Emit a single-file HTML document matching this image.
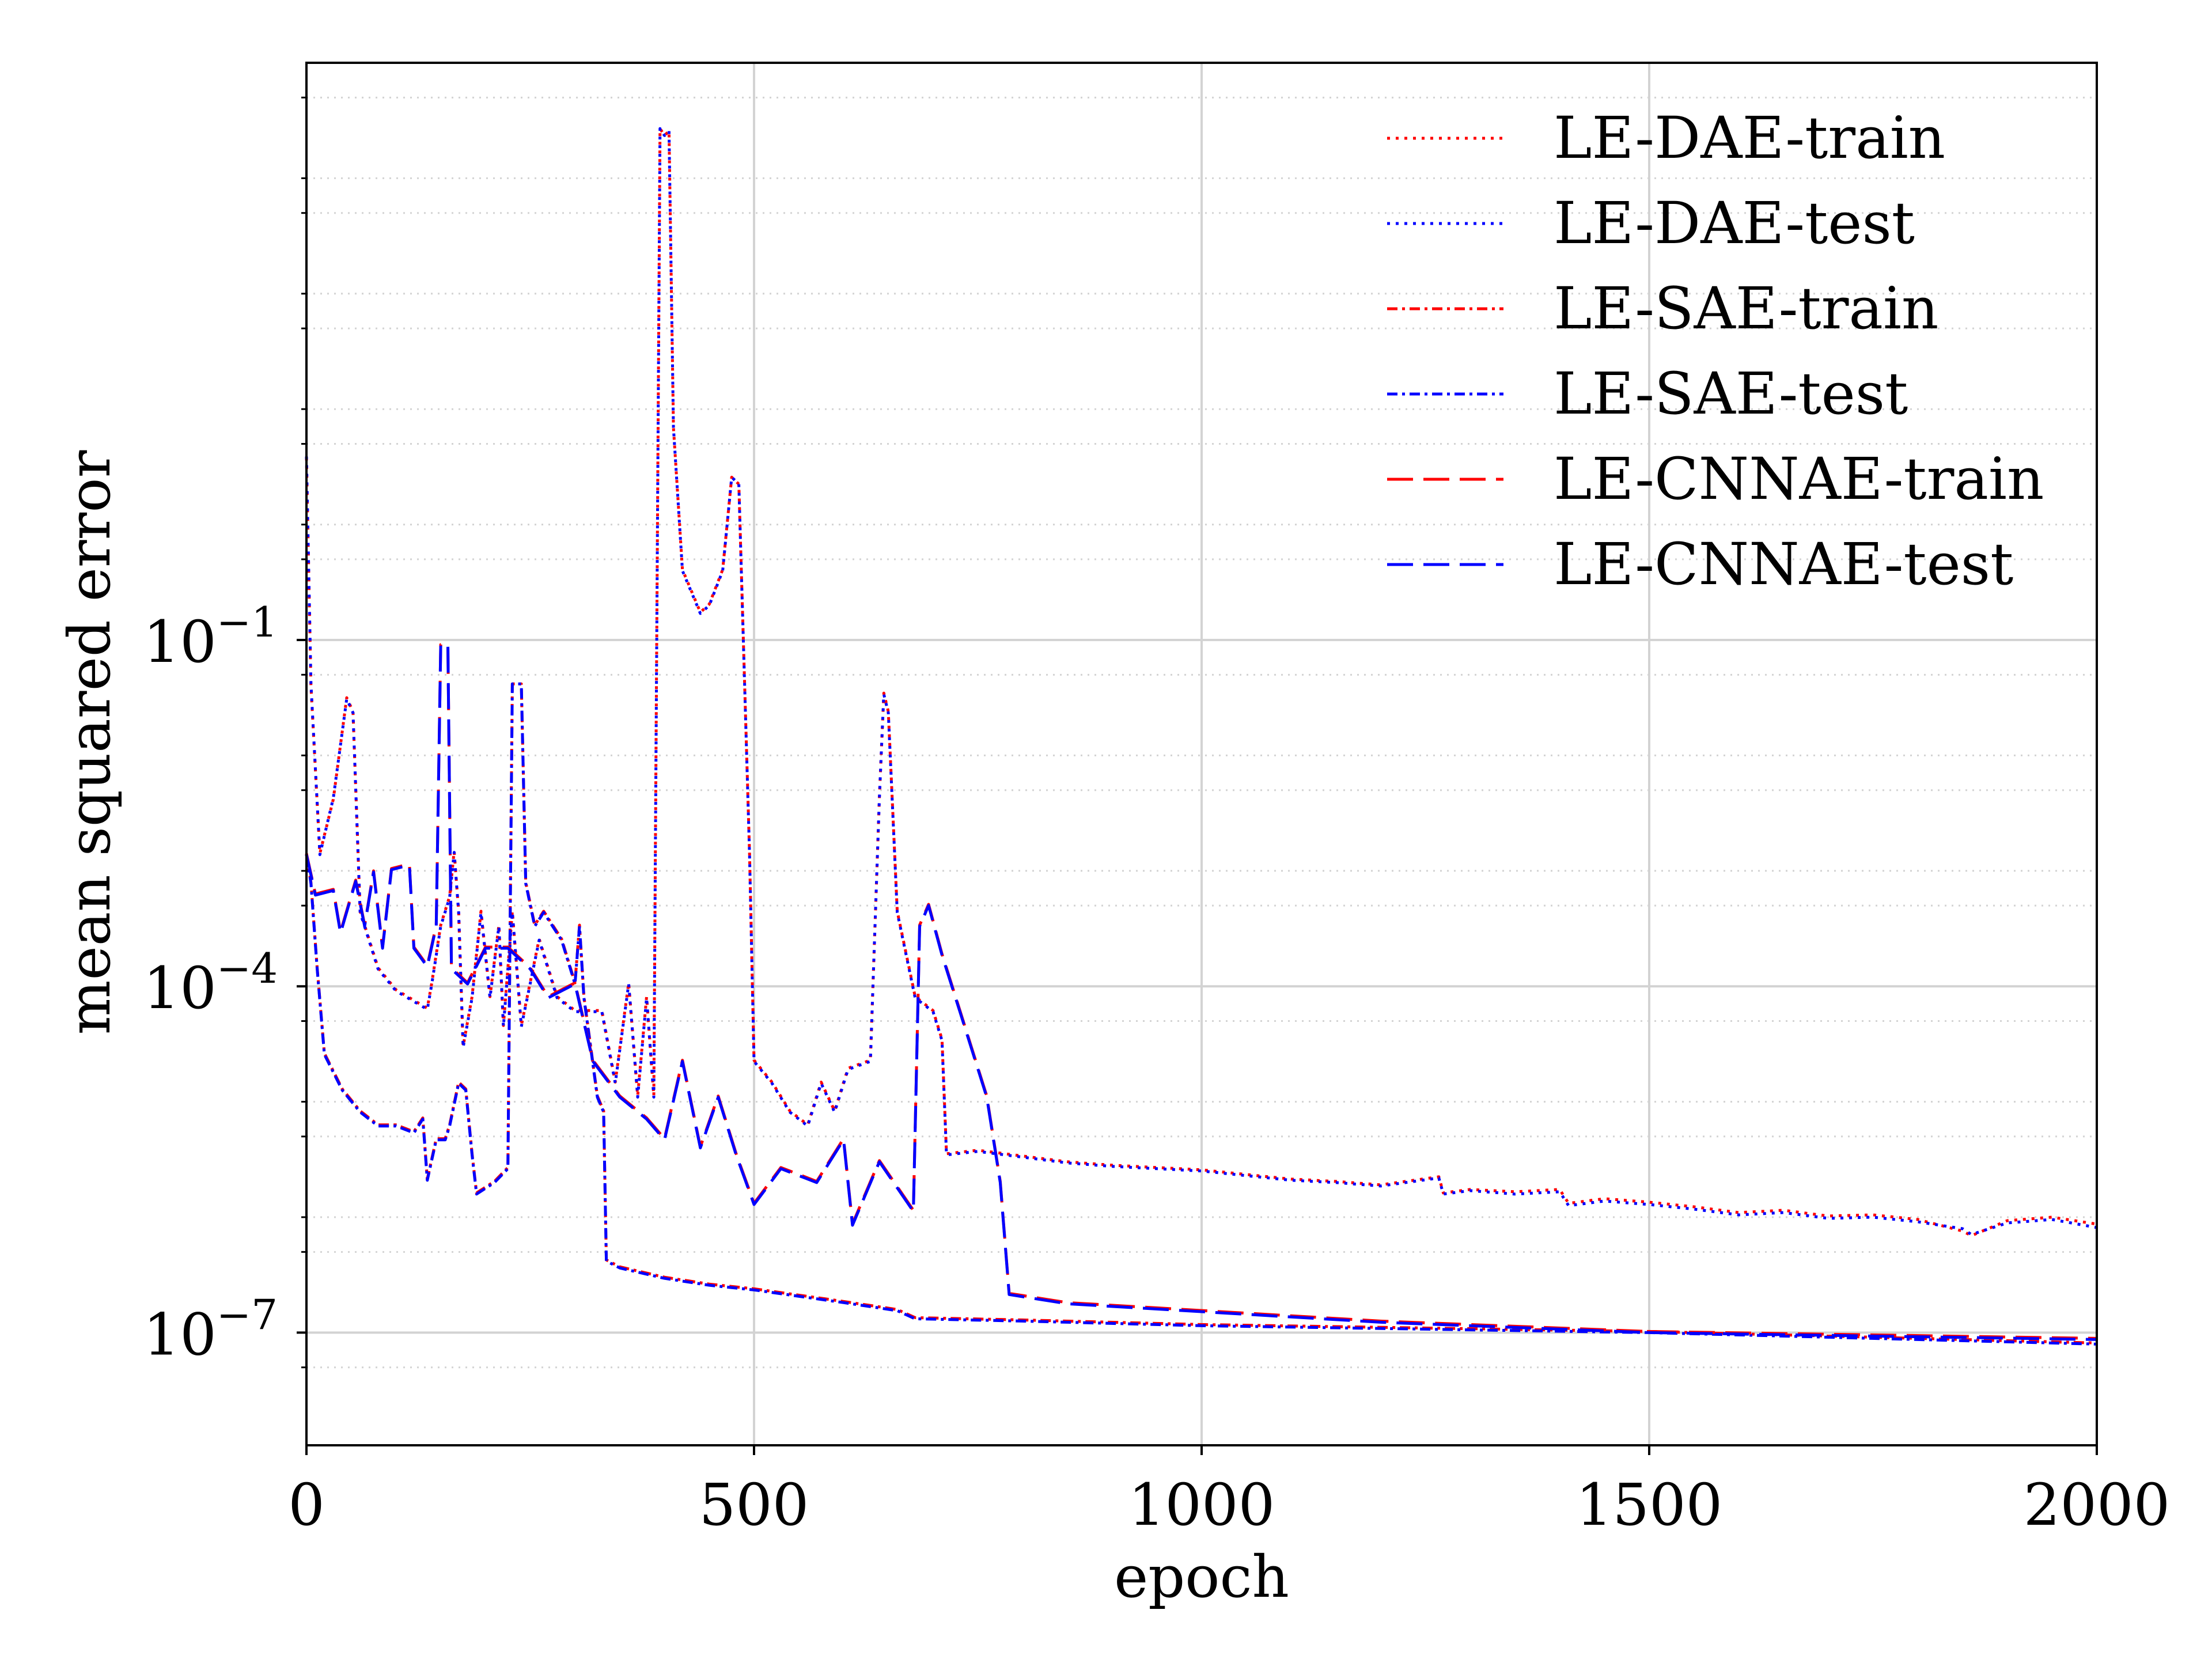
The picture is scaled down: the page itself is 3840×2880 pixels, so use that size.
<!DOCTYPE html>
<html><head><meta charset="utf-8"><style>
html,body{margin:0;padding:0;background:#fff;}
svg{display:block;font-family:"DejaVu Serif","Liberation Serif",serif;}
</style></head><body>
<svg id="chart" width="3840" height="2880" viewBox="0 0 3840 2880" xmlns="http://www.w3.org/2000/svg">
<rect width="3840" height="2880" fill="#fff"/>
<g id="grid"></g>
<g id="series"></g>
<g id="axes"></g>
<g id="legend"></g>
</svg>
<script>
// ---- data (log10 of mean squared error) ----
const xTicks = [0, 500, 1000, 1500, 2000];
const yMajorExp = [-1, -4, -7];
const yMinorExp = [4, 3, 2, 1, 0, -2, -3, -5, -6, -8];

const daeEpochs = [0,5,15,30,45,52,60,80,100,135,140,150,160,165,170,175,185,195,205,215,220,230,240,260,280,300,330,345,360,370,380,388,395,400,405,410,420,440,450,465,475,483,495,500,520,540,560,575,590,605,630,640,645,650,660,680,700,710,715,750,800,850,900,950,1000,1050,1100,1150,1200,1265,1270,1300,1350,1400,1410,1450,1500,1550,1600,1650,1700,1750,1800,1850,1860,1900,1950,2000];
const daeTest  = [0.59,-1.38,-2.86,-2.37,-1.51,-1.63,-3.36,-3.85,-4.04,-4.20,-3.98,-3.48,-3.23,-2.84,-3.36,-4.53,-4.10,-3.36,-4.10,-3.48,-4.35,-3.36,-4.35,-3.60,-4.10,-4.22,-4.22,-4.84,-3.98,-4.96,-4.10,-4.96,3.43,3.37,3.41,0.84,-0.40,-0.77,-0.70,-0.40,0.41,0.35,-2.86,-4.65,-4.84,-5.09,-5.21,-4.84,-5.09,-4.72,-4.65,-2.37,-1.47,-1.63,-3.36,-4.10,-4.22,-4.47,-5.46,-5.43,-5.48,-5.53,-5.56,-5.58,-5.60,-5.64,-5.68,-5.70,-5.73,-5.66,-5.80,-5.77,-5.80,-5.78,-5.90,-5.86,-5.89,-5.93,-5.98,-5.96,-6.01,-6.00,-6.04,-6.10,-6.15,-6.05,-6.02,-6.09];
const daeTrain = [0.58,-1.40,-2.85,-2.38,-1.50,-1.62,-3.35,-3.84,-4.03,-4.19,-3.97,-3.47,-3.22,-2.83,-3.35,-4.52,-4.09,-3.35,-4.09,-3.47,-4.34,-3.35,-4.34,-3.59,-4.09,-4.21,-4.21,-4.83,-3.97,-4.95,-4.09,-4.95,3.43,3.37,3.41,0.84,-0.39,-0.76,-0.69,-0.39,0.41,0.35,-2.85,-4.64,-4.83,-5.08,-5.20,-4.83,-5.08,-4.71,-4.64,-2.36,-1.46,-1.62,-3.35,-4.09,-4.21,-4.46,-5.45,-5.42,-5.47,-5.52,-5.55,-5.57,-5.59,-5.63,-5.67,-5.69,-5.72,-5.65,-5.79,-5.76,-5.78,-5.76,-5.88,-5.84,-5.87,-5.91,-5.96,-5.94,-5.99,-5.98,-6.02,-6.12,-6.16,-6.03,-6.00,-6.06];

const saeEpochs = [0,5,12,20,40,60,80,100,120,130,135,145,155,160,170,178,185,190,210,225,230,240,245,255,265,285,300,305,310,325,332,335,350,400,450,500,600,660,680,800,1000,1500,2000];
const saeTest  = [-2.86,-3.11,-3.85,-4.59,-4.90,-5.09,-5.21,-5.21,-5.27,-5.15,-5.68,-5.33,-5.33,-5.21,-4.84,-4.90,-5.46,-5.80,-5.70,-5.58,-1.38,-1.38,-3.11,-3.48,-3.36,-3.60,-3.98,-3.48,-4.10,-4.96,-5.09,-6.38,-6.44,-6.53,-6.59,-6.63,-6.74,-6.81,-6.88,-6.90,-6.94,-7.00,-7.10];
const saeTrain = [-2.85,-3.10,-3.84,-4.58,-4.89,-5.08,-5.20,-5.20,-5.26,-5.14,-5.67,-5.32,-5.32,-5.20,-4.83,-4.89,-5.45,-5.79,-5.69,-5.57,-1.38,-1.38,-3.10,-3.47,-3.35,-3.59,-3.97,-3.47,-4.09,-4.95,-5.08,-6.37,-6.43,-6.52,-6.58,-6.62,-6.73,-6.80,-6.87,-6.89,-6.93,-6.99,-7.09];

const cnnEpochs = [0,10,30,38,55,65,75,85,95,115,120,135,145,150,158,162,180,200,225,250,270,300,320,350,380,400,420,440,460,480,500,530,570,600,610,640,678,685,695,710,730,760,775,785,850,1200,1500,2000];
const cnnTest  = [-2.86,-3.21,-3.17,-3.54,-3.09,-3.48,-3.01,-3.67,-2.99,-2.95,-3.67,-3.83,-3.48,-1.04,-1.04,-3.85,-3.98,-3.67,-3.67,-3.85,-4.10,-3.98,-4.65,-4.96,-5.15,-5.33,-4.65,-5.40,-4.96,-5.46,-5.89,-5.58,-5.70,-5.33,-6.07,-5.52,-5.95,-3.48,-3.30,-3.73,-4.22,-4.96,-5.70,-6.67,-6.75,-6.91,-7.00,-7.06];
const cnnTrain = [-2.85,-3.20,-3.16,-3.53,-3.08,-3.47,-3.00,-3.66,-2.98,-2.94,-3.66,-3.82,-3.47,-1.04,-1.04,-3.84,-3.97,-3.66,-3.66,-3.84,-4.09,-3.97,-4.64,-4.95,-5.14,-5.32,-4.64,-5.39,-4.95,-5.45,-5.88,-5.57,-5.69,-5.32,-6.06,-5.51,-5.94,-3.47,-3.29,-3.72,-4.21,-4.95,-5.69,-6.66,-6.74,-6.90,-6.99,-7.05];

const legendLabels = ["LE-DAE-train","LE-DAE-test","LE-SAE-train","LE-SAE-test","LE-CNNAE-train","LE-CNNAE-test"];

// ---- layout ----
const L=532, R=3640, T=109, B=2509;
const X0=0, X1=2000, YTOP=4, YBOT=-7.976;
const xs = e => L + (e - X0) / (X1 - X0) * (R - L);
const ys = v => T + (YTOP - v) / (YTOP - YBOT) * (B - T);
const NS="http://www.w3.org/2000/svg";
function mk(tag, attrs, parent){const el=document.createElementNS(NS,tag);for(const k in attrs)el.setAttribute(k,attrs[k]);parent.appendChild(el);return el;}
const grid=document.getElementById('grid'), series=document.getElementById('series'), axes=document.getElementById('axes'), legend=document.getElementById('legend');

// grid
xTicks.forEach(t=>{const l=mk('line',{x1:xs(t),x2:xs(t),y1:T,y2:B,stroke:'#d3d3d3','stroke-width':4},grid);

});
yMajorExp.forEach(e=>{const l=mk('line',{x1:L,x2:R,y1:ys(e),y2:ys(e),stroke:'#d3d3d3','stroke-width':4},grid);

});
yMinorExp.forEach(e=>{[e, e-0.301].forEach(v=>{ if(v>YBOT && v<YTOP){const l=mk('line',{x1:L,x2:R,y1:ys(v),y2:ys(v),stroke:'#d3d3d3','stroke-width':3,'stroke-dasharray':'3 9'},grid);

}});});
[-1,-4,-7].forEach(e=>{const v=e-0.301;const l=mk('line',{x1:L,x2:R,y1:ys(v),y2:ys(v),stroke:'#d3d3d3','stroke-width':3,'stroke-dasharray':'3 9'},grid);

});

// series
const styles = { dot:'5 10', dashdot:'18 8 5 8', dash:'45 18' };
function draw(ep, vals, color, dash, name){
  let d='';ep.forEach((e,i)=>{d+=(i?'L':'M')+xs(e).toFixed(1)+','+ys(vals[i]).toFixed(1);});
  const p=mk('path',{d:d,fill:'none',stroke:color,'stroke-width':5,'stroke-dasharray':dash,'stroke-linejoin':'round'},series);
  
  
}
draw(daeEpochs,daeTrain,'#ff0000',styles.dot,'le-dae-train-line');
draw(daeEpochs,daeTest,'#0000ff',styles.dot,'le-dae-test-line');
draw(saeEpochs,saeTrain,'#ff0000',styles.dashdot,'le-sae-train-line');
draw(saeEpochs,saeTest,'#0000ff',styles.dashdot,'le-sae-test-line');
draw(cnnEpochs,cnnTrain,'#ff0000',styles.dash,'le-cnnae-train-line');
draw(cnnEpochs,cnnTest,'#0000ff',styles.dash,'le-cnnae-test-line');

// axes frame
const fr=mk('rect',{x:L,y:T,width:R-L,height:B-T,fill:'none',stroke:'#000','stroke-width':4},axes);


xTicks.forEach(t=>{mk('line',{x1:xs(t),x2:xs(t),y1:B,y2:B+17,stroke:'#000','stroke-width':4},axes);
const tx=mk('text',{x:xs(t),y:2647,'font-size':100,'text-anchor':'middle'},axes);tx.textContent=t;

});
yMajorExp.forEach(e=>{const y=ys(e);mk('line',{x1:L-17,x2:L,y1:y,y2:y,stroke:'#000','stroke-width':4},axes);
const tx=mk('text',{x:L-50,y:y+38,'font-size':100,'text-anchor':'end'},axes);
tx.innerHTML='10<tspan dy="-44" font-size="72">−'+(-e)+'</tspan>';

});
yMinorExp.forEach(e=>{[e,e-0.301].forEach(v=>{if(v>YBOT&&v<YTOP){const y=ys(v);mk('line',{x1:L-9,x2:L,y1:y,y2:y,stroke:'#000','stroke-width':3},axes);}});});
[-1,-4,-7].forEach(e=>{const y=ys(e-0.301);mk('line',{x1:L-9,x2:L,y1:y,y2:y,stroke:'#000','stroke-width':3},axes);});
const xl=mk('text',{x:(L+R)/2,y:2772,'font-size':100,'text-anchor':'middle'},axes);xl.textContent='epoch';


const yl=mk('text',{x:0,y:0,'font-size':100,'text-anchor':'middle',transform:'translate(190,'+((T+B)/2-20)+') rotate(-90)'},axes);yl.textContent='mean squared error';



// legend
const legColors=['#ff0000','#0000ff','#ff0000','#0000ff','#ff0000','#0000ff'];
const legDash=[styles.dot,styles.dot,styles.dashdot,styles.dashdot,styles.dash,styles.dash];
legendLabels.forEach((lab,i)=>{const y=240+i*148;
const g=mk('g',{},legend);


mk('line',{x1:2408,x2:2610,y1:y,y2:y,stroke:legColors[i],'stroke-width':5,'stroke-dasharray':legDash[i]},g);
const t=mk('text',{x:2697,y:y+34,'font-size':100},g);t.textContent=lab;});
</script>
</body></html>
